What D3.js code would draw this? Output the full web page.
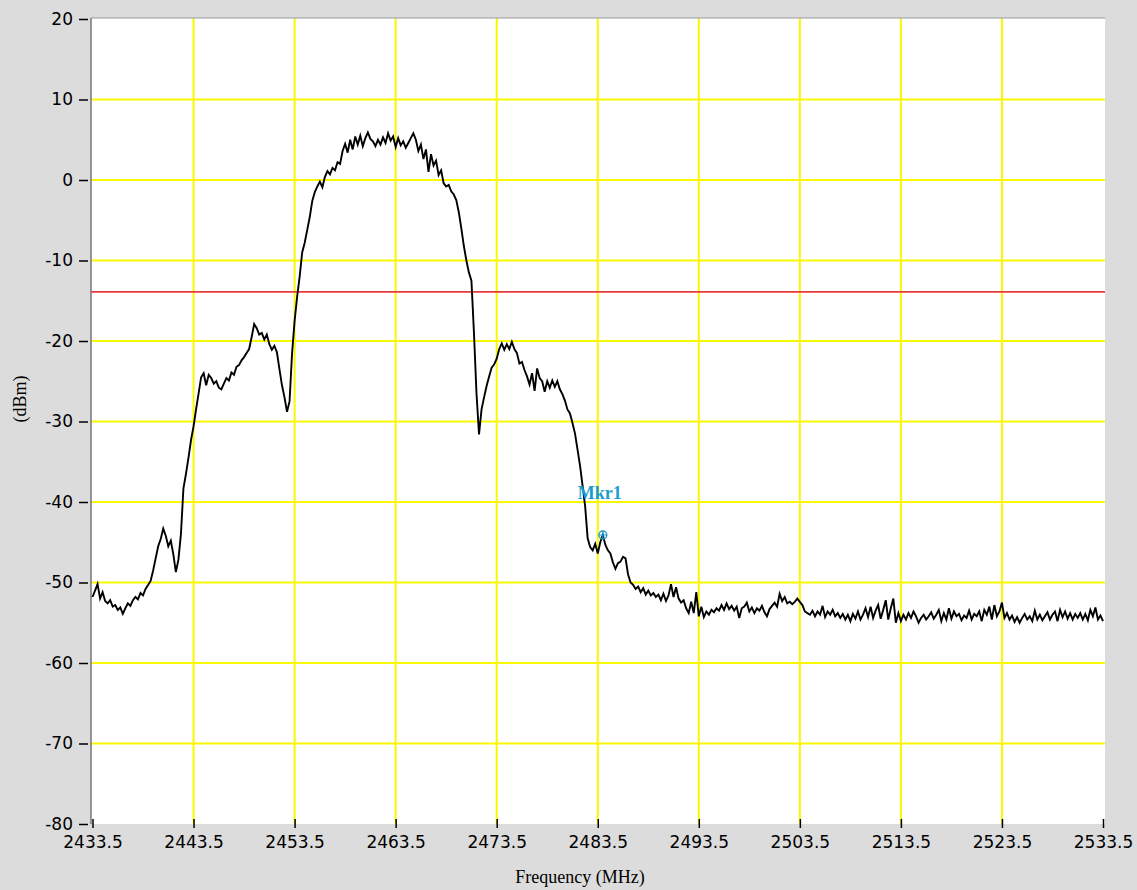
<!DOCTYPE html>
<html>
<head>
<meta charset="utf-8">
<script src="https://cdn.jsdelivr.net/npm/d3@7"></script>
<style>
  html, body { margin: 0; padding: 0; background: #dcdcdc; }
  svg { display: block; }
</style>
</head>
<body>
<svg id="chart" width="1137" height="890"></svg>
<script>
// Spectrum trace: start frequency, step and measured levels (dBm)
const freqStart = 2433.5;
const freqStep = 0.25;
const levels = [
  -51.8,-51.0,-50.2,-52.0,-51.2,-52.3,-52.6,-52.2,-53.0,-52.8,-53.4,-53.1,-53.9,-53.2,-52.6,-52.9,-52.2,-51.8,-52.1,-51.3,
  -51.6,-50.8,-50.3,-49.8,-48.5,-47.0,-45.5,-44.6,-43.3,-44.2,-45.5,-44.8,-46.5,-48.7,-47.2,-44.0,-38.3,-36.5,-34.5,-32.3,
  -30.6,-28.5,-26.5,-24.5,-24.0,-25.5,-24.2,-24.6,-25.3,-25.0,-25.8,-26.0,-25.3,-24.6,-24.9,-23.9,-24.2,-23.2,-23.0,-22.4,
  -22.0,-21.5,-21.0,-19.5,-17.9,-18.4,-19.2,-19.0,-19.8,-19.2,-20.4,-21.1,-20.6,-21.4,-23.5,-25.5,-27.0,-28.8,-27.5,-21.5,
  -17.5,-14.5,-12.0,-9.0,-7.8,-6.2,-4.6,-2.6,-1.5,-0.8,-0.2,-0.9,0.4,1.1,0.7,1.5,1.2,2.2,2.0,3.6,
  4.5,3.4,5.0,3.8,5.4,4.4,5.5,4.2,5.2,5.9,5.1,4.8,4.2,5.0,4.4,5.3,4.6,5.8,4.9,5.4,
  4.1,5.2,4.3,4.8,4.0,4.6,5.2,5.8,5.0,3.6,4.4,2.6,3.8,1.0,3.2,1.8,2.4,0.6,1.2,-0.4,
  -0.8,-0.6,-1.4,-1.8,-2.5,-4.0,-6.0,-8.2,-10.0,-11.5,-12.5,-19.0,-26.5,-31.6,-28.5,-27.0,-25.6,-24.4,-23.3,-22.9,
  -22.2,-21.0,-20.3,-21.1,-20.4,-21.0,-20.1,-21.0,-21.5,-22.8,-22.6,-23.6,-24.4,-25.4,-24.0,-26.2,-23.4,-24.6,-25.0,-26.3,
  -25.0,-25.8,-24.9,-25.7,-25.0,-26.0,-26.6,-27.4,-28.5,-29.0,-30.2,-31.5,-33.5,-35.5,-38.0,-40.5,-44.5,-45.6,-46.0,-45.2,
  -46.4,-45.0,-44.1,-45.3,-46.0,-46.4,-47.5,-48.3,-47.6,-47.4,-46.8,-47.0,-49.0,-50.0,-50.3,-50.8,-50.5,-51.2,-50.7,-51.5,
  -51.0,-51.6,-51.3,-51.8,-51.5,-52.2,-51.4,-52.3,-51.6,-50.2,-51.8,-50.6,-52.0,-52.5,-52.2,-53.2,-53.8,-52.4,-53.8,-51.2,
  -54.2,-53.0,-54.3,-53.6,-54.0,-53.4,-53.7,-53.2,-53.5,-52.8,-53.4,-52.6,-53.3,-52.9,-53.5,-53.0,-54.4,-53.2,-53.0,-52.5,
  -53.6,-53.1,-53.8,-53.2,-53.5,-52.9,-53.7,-54.2,-53.3,-52.9,-52.5,-53.0,-51.4,-52.3,-51.8,-52.6,-52.4,-52.7,-52.4,-52.0,
  -52.4,-52.8,-53.6,-53.8,-54.0,-53.5,-54.2,-53.6,-54.0,-52.9,-54.3,-53.6,-54.0,-53.4,-54.2,-53.8,-54.4,-53.9,-54.6,-54.0,
  -54.8,-53.9,-54.5,-53.6,-54.6,-54.0,-53.2,-54.3,-53.0,-54.4,-53.5,-52.8,-54.5,-53.4,-52.2,-54.6,-53.2,-52.0,-55.0,-53.8,
  -54.8,-54.0,-54.6,-53.8,-54.4,-53.6,-54.2,-55.0,-54.4,-54.0,-54.6,-54.2,-53.7,-54.5,-54.0,-53.4,-54.8,-53.8,-54.6,-53.2,
  -54.5,-53.6,-54.2,-53.9,-54.7,-54.1,-54.4,-53.5,-54.6,-53.9,-54.2,-53.6,-54.8,-53.4,-54.0,-53.0,-54.6,-52.8,-54.2,-53.6,
  -52.5,-54.4,-53.8,-54.6,-54.1,-54.9,-54.3,-55.0,-54.4,-53.9,-54.6,-54.2,-54.8,-53.5,-54.6,-54.0,-54.7,-54.2,-53.7,-54.6,
  -54.0,-53.6,-54.8,-53.4,-54.3,-53.6,-54.5,-53.8,-54.6,-53.9,-54.4,-53.8,-54.6,-53.9,-54.7,-53.4,-54.2,-53.1,-54.6,-54.1,
  -54.8
];

// Axis ticks
const xTicks = [2433.5, 2443.5, 2453.5, 2463.5, 2473.5, 2483.5, 2493.5, 2503.5, 2513.5, 2523.5, 2533.5];
const yTicks = [20, 10, 0, -10, -20, -30, -40, -50, -60, -70, -80];

// Limit line and marker
const limitLevel = [-13.9];
const markerFreq = [2484.0];
const markerLevel = [-44.1];
const markerLabel = ["Mkr1"];

const svg = d3.select("#chart");

const x = d3.scaleLinear().domain([2433.5, 2533.5]).range([92.5, 1103]);
const y = d3.scaleLinear().domain([-80, 20]).range([824, 19]);

// Plot area
svg.append("rect")
  .attr("x", 91).attr("y", 18)
  .attr("width", 1105 - 91).attr("height", 824 - 18)
  .attr("fill", "#ffffff");

// Grid
const grid = svg.append("g");
grid.selectAll("line.h")
  .data(yTicks.filter(v => v > -80 && v < 20))
  .join("line")
  .attr("x1", 91).attr("x2", 1105)
  .attr("y1", d => y(d)).attr("y2", d => y(d))
  .attr("stroke", "#f8f800").attr("stroke-width", 2);
grid.selectAll("line.v")
  .data(xTicks.filter(v => v > 2433.5 && v < 2533.5))
  .join("line")
  .attr("x1", d => x(d)).attr("x2", d => x(d))
  .attr("y1", 18).attr("y2", 824)
  .attr("stroke", "#f8f800").attr("stroke-width", 2);

// Frame (left and top edges)
svg.append("line").attr("x1", 91).attr("x2", 91).attr("y1", 18).attr("y2", 824)
  .attr("stroke", "#777").attr("stroke-width", 1.5);
svg.append("line").attr("x1", 91).attr("x2", 1105).attr("y1", 18).attr("y2", 18)
  .attr("stroke", "#999").attr("stroke-width", 1);

// Limit line
svg.selectAll("line.limit")
  .data(limitLevel)
  .join("line")
  .attr("x1", 91).attr("x2", 1105)
  .attr("y1", d => y(d)).attr("y2", d => y(d))
  .attr("stroke", "#e8393a").attr("stroke-width", 1.6);

// Trace
const line = d3.line()
  .x((d, i) => x(freqStart + i * freqStep))
  .y(d => y(d));
svg.append("path")
  .datum(levels)
  .attr("d", line)
  .attr("fill", "none")
  .attr("stroke", "#000")
  .attr("stroke-width", 1.9)
  .attr("stroke-linejoin", "miter");

// Axes
const yAxis = d3.axisLeft(y).tickValues(yTicks).tickSize(9).tickPadding(6).tickFormat(d => String(d));
const gy = svg.append("g").attr("transform", "translate(88,0)").call(yAxis);
gy.select(".domain").remove();
gy.selectAll("text")
  .attr("font-family", "DejaVu Sans, sans-serif")
  .attr("font-size", 17).attr("fill", "#000");
gy.selectAll("line").attr("stroke", "#000").attr("stroke-width", 1.5);

const xAxis = d3.axisBottom(x).tickValues(xTicks).tickSize(9).tickPadding(8).tickFormat(d3.format(".1f"));
const gx = svg.append("g").attr("transform", "translate(0,819)").call(xAxis);
gx.select(".domain").remove();
gx.selectAll("text")
  .attr("font-family", "DejaVu Sans, sans-serif")
  .attr("font-size", 17).attr("fill", "#000");
gx.selectAll("line").attr("stroke", "#000").attr("stroke-width", 1.5);

// Axis titles
svg.append("text")
  .attr("x", 580).attr("y", 883)
  .attr("text-anchor", "middle")
  .attr("font-family", "Liberation Serif, serif")
  .attr("font-size", 18)
  .text("Frequency (MHz)");
svg.append("text")
  .attr("transform", "translate(26,399) rotate(-90)")
  .attr("text-anchor", "middle")
  .attr("font-family", "Liberation Serif, serif")
  .attr("font-size", 18)
  .text("(dBm)");

// Marker
const mk = svg.append("g");
mk.selectAll("circle")
  .data(markerFreq)
  .join("circle")
  .attr("cx", d => x(d)).attr("cy", (d, i) => y(markerLevel[i]))
  .attr("r", 4)
  .attr("fill", "none").attr("stroke", "#1a9ccc").attr("stroke-width", 1.4);
mk.selectAll("path")
  .data(markerFreq)
  .join("path")
  .attr("d", (d, i) => {
    const cx = x(d), cy = y(markerLevel[i]);
    return `M${cx - 4},${cy}H${cx + 4}M${cx},${cy - 4}V${cy + 4}`;
  })
  .attr("stroke", "#1a9ccc").attr("stroke-width", 1.2);
mk.selectAll("text")
  .data(markerFreq)
  .join("text")
  .attr("x", d => x(d) - 3).attr("y", (d, i) => y(markerLevel[i]) - 36)
  .attr("text-anchor", "middle")
  .attr("font-family", "Liberation Serif, serif")
  .attr("font-weight", "bold")
  .attr("font-size", 18)
  .attr("fill", "#1a9ccc")
  .text((d, i) => markerLabel[i]);
</script>
</body>
</html>
